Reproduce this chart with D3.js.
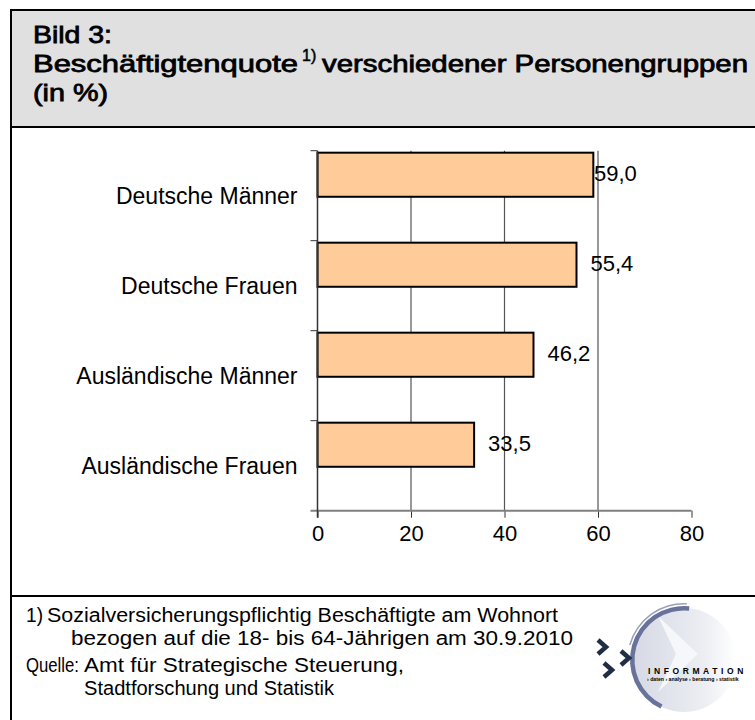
<!DOCTYPE html>
<html>
<head>
<meta charset="utf-8">
<script src="https://cdnjs.cloudflare.com/ajax/libs/d3/7.8.5/d3.min.js"></script>
<style>
    body { margin: 0; background: #fff; }
    svg text { font-family: Arial, "Liberation Sans", sans-serif; fill: #000; }
</style>
</head>
<body>
<div id="chart"></div>
<script>
// data
const categories = ["Deutsche Männer", "Deutsche Frauen", "Ausländische Männer", "Ausländische Frauen"];
const values = [59.0, 55.4, 46.2, 33.5];
const xTicks = [0, 20, 40, 60, 80];
const titleLines = ["Bild 3:", "Beschäftigtenquote", "1)", "verschiedener Personengruppen", "(in %)"];
const noteLines = [
    ["1)", "Sozialversicherungspflichtig Beschäftigte am Wohnort"],
    ["", "bezogen auf die 18- bis 64-Jährigen am 30.9.2010"],
    ["Quelle:", "Amt für Strategische Steuerung,"],
    ["", "Stadtforschung und Statistik"]
];

const W = 755, H = 720;
const de = d3.formatLocale({decimal: ",", thousands: ".", grouping: [3], currency: ["", " €"]});
const fmt = de.format(".1f");

const svg = d3.select("#chart").append("svg")
    .attr("width", W)
    .attr("height", H);

svg.append("rect").attr("width", W).attr("height", H).attr("fill", "#fff");

// header box
svg.append("rect")
    .attr("x", 11).attr("y", 10)
    .attr("width", W).attr("height", 117)
    .attr("fill", "#e0e0e0");

// frame lines
const frame = svg.append("g").attr("stroke", "#000").attr("stroke-width", 2);
frame.append("line").attr("x1", 11).attr("y1", 10).attr("x2", W).attr("y2", 10);
frame.append("line").attr("x1", 11).attr("y1", 9).attr("x2", 11).attr("y2", H);
frame.append("line").attr("x1", 11).attr("y1", 127).attr("x2", W).attr("y2", 127);
frame.append("line").attr("x1", 11).attr("y1", 596).attr("x2", W).attr("y2", 596);

// title (condensed look: stretch/squeeze to the measured widths)
const title = svg.append("g")
    .attr("font-size", 24)
    .attr("stroke", "#000")
    .attr("stroke-width", 0.8);

function fitText(g, txt, x, y, len) {
    return g.append("text").attr("x", x).attr("y", y)
        .attr("textLength", len).attr("lengthAdjust", "spacingAndGlyphs")
        .text(txt);
}

fitText(title, titleLines[0], 33, 43, 79);
fitText(title, titleLines[1], 33, 72, 265);
title.append("text").attr("x", 302).attr("y", 61)
    .attr("font-size", 16).attr("stroke-width", 0.5)
    .text(titleLines[2]);
fitText(title, titleLines[3], 322, 72, 426);
fitText(title, titleLines[4], 33, 101, 75);

// chart
const margin = {top: 150.7, left: 317.5};
const plotW = 374, plotH = 360;

const plot = svg.append("g")
    .attr("transform", `translate(${margin.left},${margin.top})`);

const xScale = d3.scaleLinear().domain([0, 80]).range([0, plotW]);
const yScale = d3.scaleBand().domain(categories).range([0, plotH]).padding(0);

// gridlines
plot.selectAll(".grid")
    .data(xTicks.filter(d => d > 0 && d < 80))
    .enter().append("line")
    .attr("class", "grid")
    .attr("x1", d => xScale(d)).attr("x2", d => xScale(d))
    .attr("y1", 0).attr("y2", plotH)
    .attr("stroke", "#555").attr("stroke-width", 1.2);

// bars (sit in the upper half of each band, like the original)
plot.selectAll(".bar")
    .data(values)
    .enter().append("rect")
    .attr("class", "bar")
    .attr("x", 0)
    .attr("y", (d, i) => yScale(categories[i]) + yScale.bandwidth() * 0.022)
    .attr("width", d => xScale(d))
    .attr("height", yScale.bandwidth() * 0.49)
    .attr("fill", "#ffcc99")
    .attr("stroke", "#000")
    .attr("stroke-width", 2);

// value labels
plot.selectAll(".val")
    .data(values)
    .enter().append("text")
    .attr("class", "val")
    .attr("x", d => Math.min(xScale(d) + 14, xScale(60) - 4))
    .attr("y", (d, i) => yScale(categories[i]) + yScale.bandwidth() * 0.25)
    .attr("dy", "0.36em")
    .attr("font-size", 22)
    .text(d => fmt(d));

// x axis
const xAxis = d3.axisBottom(xScale)
    .tickValues(xTicks)
    .tickSize(7)
    .tickPadding(8)
    .tickFormat(d3.format("d"));

const gx = plot.append("g")
    .attr("transform", `translate(0,${plotH})`)
    .call(xAxis);
gx.select(".domain").remove();
gx.append("line")
    .attr("x1", -7).attr("x2", plotW)
    .attr("stroke", "#808080").attr("stroke-width", 2);
gx.selectAll(".tick line").attr("stroke", "#333");
gx.selectAll(".tick text")
    .attr("font-size", 22)
    .attr("font-family", "Arial, 'Liberation Sans', sans-serif")
    .attr("fill", "#000");

// y axis: ticks on band boundaries, labels centered in bands
const yAxisG = plot.append("g");
yAxisG.append("line")
    .attr("x1", 0).attr("x2", 0)
    .attr("y1", 0).attr("y2", plotH + 7)
    .attr("stroke", "#333").attr("stroke-width", 1.5);
yAxisG.selectAll(".ytick")
    .data(categories)
    .enter().append("line")
    .attr("x1", -7).attr("x2", 0)
    .attr("y1", d => yScale(d)).attr("y2", d => yScale(d))
    .attr("stroke", "#333");
yAxisG.selectAll(".ylab")
    .data(categories)
    .enter().append("text")
    .attr("x", -20)
    .attr("y", d => yScale(d) + yScale.bandwidth() / 2)
    .attr("dy", "0.36em")
    .attr("text-anchor", "end")
    .attr("font-size", 23)
    .text(d => d);

// notes
const notes = svg.append("g").attr("font-size", 20);
const noteRows = [
    {y: 622, x0: 26, w0: 17, x1: 47, len: 511},
    {y: 645, x0: 26, w0: 0, x1: 71, len: 502},
    {y: 672, x0: 26, w0: 53, x1: 84, len: 320},
    {y: 695, x0: 26, w0: 0, x1: 84, len: 250}
];
noteLines.forEach((ln, i) => {
    const r = noteRows[i];
    if (ln[0]) fitText(notes, ln[0], r.x0, r.y, r.w0);
    fitText(notes, ln[1], r.x1, r.y, r.len);
});

// logo
const logo = svg.append("g");
const defs = svg.append("defs");
const grad = defs.append("linearGradient").attr("id", "logoFill")
    .attr("x1", "0%").attr("x2", "100%").attr("y1", "0%").attr("y2", "0%");
grad.append("stop").attr("offset", "0%").attr("stop-color", "#d6d9e4");
grad.append("stop").attr("offset", "70%").attr("stop-color", "#eceef3");
grad.append("stop").attr("offset", "100%").attr("stop-color", "#ffffff");

const cx = 684, cy = 660, r = 54;
logo.append("circle")
    .attr("cx", cx).attr("cy", cy).attr("r", r - 2)
    .attr("fill", "url(#logoFill)");
logo.append("path")
    .attr("d", `M${cx - 26},${cy - 44} L${cx + 14},${cy - 6} L${cx - 26},${cy + 32} L${cx - 8},${cy - 6} Z`)
    .attr("fill", "#f6f7fa");
const arc = d3.arc()
    .innerRadius(r - 4.5)
    .outerRadius(r)
    .startAngle(0.1)
    .endAngle(-Math.PI + 0.45);
logo.append("path")
    .attr("transform", `translate(${cx},${cy})`)
    .attr("d", arc)
    .attr("fill", "#68729a");
const arc2 = d3.arc()
    .innerRadius(r + 1.5)
    .outerRadius(r + 3)
    .startAngle(0.05)
    .endAngle(-1.3);
logo.append("path")
    .attr("transform", `translate(${cx},${cy})`)
    .attr("d", arc2)
    .attr("fill", "#98a0bd");

const chev = (x, y) => `M${x},${y} L${x + 8},${y + 7} L${x},${y + 14}`;
[[598, 640], [621, 651], [604, 663]].forEach(p => {
    logo.append("path").attr("d", chev(p[0], p[1]))
        .attr("fill", "none")
        .attr("stroke", "#1f2d45")
        .attr("stroke-width", 4.5);
});
logo.append("text")
    .attr("x", 648).attr("y", 674)
    .attr("font-size", 8.5).attr("font-weight", "bold")
    .attr("letter-spacing", 3.6)
    .attr("fill", "#2b3553")
    .text("INFORMATION");
logo.append("text")
    .attr("x", 647).attr("y", 681)
    .attr("font-size", 5.2).attr("font-weight", "bold")
    .attr("fill", "#8b2438")
    .text("› daten › analyse › beratung › statistik");
</script>
</body>
</html>
